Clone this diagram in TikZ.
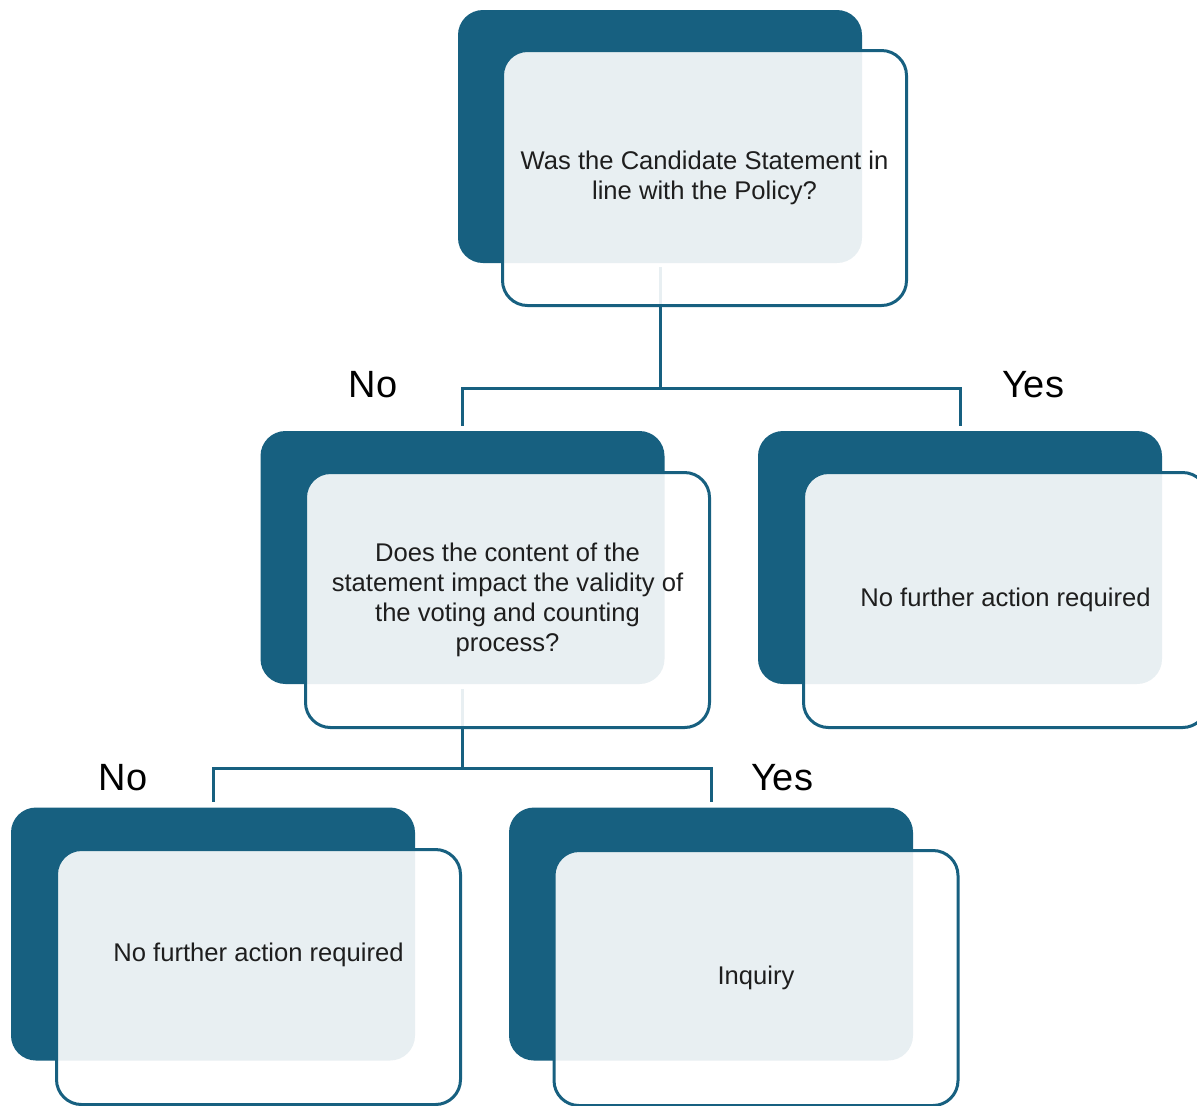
\documentclass[tikz,border=0pt]{standalone}
\usepackage{fontspec}
\setmainfont{Liberation Sans}
\usetikzlibrary{backgrounds}
\definecolor{cardblue}{RGB}{23,96,128}
\definecolor{cardink}{RGB}{30,30,30}
\tikzset{
  backcard/.style={fill=cardblue,rounded corners=12.5pt,inner sep=0pt,
    minimum width=202pt,minimum height=126.5pt},
  frontcard/.style={draw=cardblue,line width=1.5pt,fill=white,fill opacity=0.9,
    text opacity=1,rounded corners=12.5pt,inner sep=0pt,
    minimum width=202pt,minimum height=127.5pt,align=center,
    font=\fontsize{12.8}{15}\selectfont,text=cardink},
  cardlabel/.style={align=center,font=\fontsize{12.8}{15}\selectfont,text=cardink},
  answer/.style={anchor=base,font=\fontsize{19}{22}\selectfont,text=black},
  link/.style={draw=cardblue,line width=1.5pt},
}
\begin{document}
\begin{tikzpicture}[x=0.5pt,y=-0.5pt]
  \useasboundingbox (0,0) rectangle (1197,1105);
  % back cards
  \node[backcard] (q1back) at (660,136.5) {};
  \node[backcard] (q2back) at (462.5,557.5) {};
  \node[backcard] (yes1back) at (960,557.5) {};
  \node[backcard] (no2back) at (213,934) {};
  \node[backcard] (yes2back) at (711,934) {};
  % front cards
  \node[frontcard] (q1) at (704.5,178) {Was the Candidate Statement in\\line with the Policy?};
  \node[frontcard] (q2) at (507.5,600) {Does the content of the\\statement impact the validity of\\the voting and counting\\process?};
  \node[frontcard] (yes1) at (1005.5,600) {No further action required};
  \node[frontcard] (no2) at (258.5,977) {};
  \node[cardlabel] (no2text) at (258.5,955) {No further action required};
  \node[frontcard] (yes2) at (756,978) {Inquiry};
  % answers
  \node[answer] (no1lbl) at (373,397) {No};
  \node[answer] (yes1lbl) at (1033,397) {Yes};
  \node[answer] (no2lbl) at (123,790) {No};
  \node[answer] (yes2lbl) at (782,790) {Yes};
  % connectors
  \coordinate (split1) at (660,388);
  \coordinate (split2) at (462.5,768);
  \begin{scope}[on background layer]
    \draw[link,shorten <=2pt] (q1back.south) -- (split1);
    \draw[link,shorten >=2.5pt] (split1) -| (q2back.north);
    \draw[link,shorten >=2.5pt] (split1) -| (yes1back.north);
    \draw[link,shorten <=2.5pt] (q2back.south) -- (split2);
    \draw[link,shorten >=2.5pt] (split2) -| (no2back.north);
    \draw[link,shorten >=2.5pt] (split2) -| (yes2back.north);
  \end{scope}
\end{tikzpicture}
\end{document}
